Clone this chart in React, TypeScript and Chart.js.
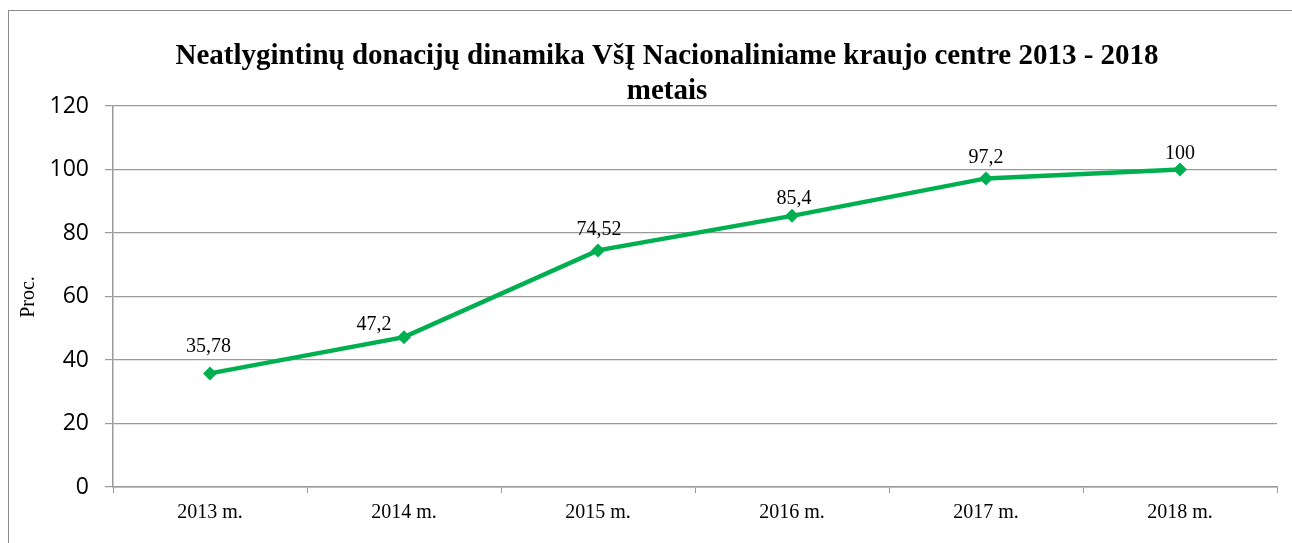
import React, { useEffect, useRef } from "react";
import { Chart, registerables } from "chart.js";

Chart.register(...registerables);

const categories = ["2013 m.", "2014 m.", "2015 m.", "2016 m.", "2017 m.", "2018 m."];
const values = [35.78, 47.2, 74.52, 85.4, 97.2, 100];
const valueLabels = ["35,78", "47,2", "74,52", "85,4", "97,2", "100"];
const titleLines = [
  "Neatlygintinų donacijų dinamika VšĮ Nacionaliniame kraujo centre 2013 - 2018",
  "metais",
];
const yTitle = "Proc.";

const GREEN = "#00B050";
const GRID = "#9a9a9a";

// Label placement nudges (pixels relative to each point), as placed in the original
const LABEL_NUDGE: [number, number][] = [
  [-1.5, 21],
  [-30, 7],
  [1, 15],
  [2, 12],
  [0, 15],
  [0, 11],
];

const overlayPlugin = {
  id: "overlay",
  afterDraw(chart: any) {
    const ctx = chart.ctx as CanvasRenderingContext2D;
    ctx.save();
    // Title
    ctx.fillStyle = "#000";
    ctx.font = "bold 29px 'Liberation Serif', 'Times New Roman', serif";
    ctx.textAlign = "center";
    ctx.textBaseline = "alphabetic";
    ctx.fillText(titleLines[0], 667, 64);
    ctx.fillText(titleLines[1], 667, 99);
    // Y axis title
    ctx.font = "20px 'Liberation Serif', 'Times New Roman', serif";
    ctx.translate(29, 297);
    ctx.rotate(-Math.PI / 2);
    ctx.textAlign = "center";
    ctx.textBaseline = "middle";
    ctx.fillText(yTitle, 0, 0);
    ctx.restore();

    // Data labels
    ctx.save();
    const meta = chart.getDatasetMeta(0);
    ctx.font = "20px 'Liberation Serif', 'Times New Roman', serif";
    ctx.fillStyle = "#000";
    ctx.textAlign = "center";
    ctx.textBaseline = "alphabetic";
    meta.data.forEach((pt: any, i: number) => {
      const [dx, up] = LABEL_NUDGE[i] || [0, 15];
      ctx.fillText(valueLabels[i], pt.x + dx, pt.y - up);
    });
    ctx.restore();
  },
};

export default function App() {
  const ref = useRef<HTMLCanvasElement>(null);
  useEffect(() => {
    if (!ref.current) return;
    const chart = new Chart(ref.current, {
      type: "line",
      data: {
        labels: categories,
        datasets: [
          {
            data: values,
            borderColor: GREEN,
            backgroundColor: GREEN,
            borderWidth: 4.5,
            pointStyle: "rectRot",
            pointRadius: 7,
            pointBackgroundColor: GREEN,
            pointBorderColor: GREEN,
            pointBorderWidth: 0,
            tension: 0,
          },
        ],
      },
      options: {
        animation: false,
        responsive: false,
        maintainAspectRatio: false,
        layout: { padding: { top: 106, right: 15, bottom: 0, left: 0 } },
        plugins: {
          legend: { display: false },
          title: { display: false },
          tooltip: { enabled: false },
        },
        scales: {
          x: {
            type: "category",
            offset: true,
            grid: {
              offset: true,
              drawOnChartArea: false,
              drawTicks: true,
              tickLength: 6,
              color: GRID,
            },
            border: { color: GRID, width: 1.5 },
            ticks: {
              color: "#000",
              font: { family: "'Liberation Serif', 'Times New Roman', serif", size: 20 },
              padding: 8,
              maxRotation: 0,
              autoSkip: false,
            },
            afterFit(scale: any) {
              scale.height = 56;
            },
          },
          y: {
            min: 0,
            max: 120,
            ticks: {
              stepSize: 20,
              color: "#000",
              font: { family: "'Open Sans', 'Liberation Sans', sans-serif", size: 23 },
              padding: 16,
            },
            grid: { color: GRID, lineWidth: 1.2, tickLength: 8 },
            border: { color: GRID, width: 1.5 },
            afterFit(scale: any) {
              scale.width = 113;
            },
          },
        },
      },
      plugins: [overlayPlugin],
    });
    return () => chart.destroy();
  }, []);

  return (
    <>
      <div
        style={{
          position: "fixed",
          left: 8,
          top: 10,
          width: 1400,
          height: 700,
          borderLeft: "1.5px solid #8c8c8c",
          borderTop: "1.5px solid #8c8c8c",
        }}
      />
      <canvas
        ref={ref}
        width={1292}
        height={543}
        style={{ position: "fixed", left: 0, top: 0, width: 1292, height: 543 }}
      />
    </>
  );
}
